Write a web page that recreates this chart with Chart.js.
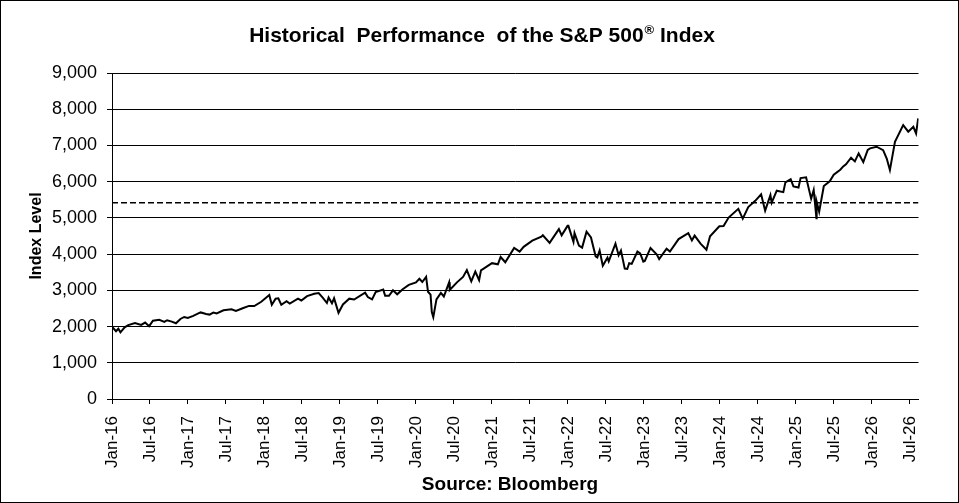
<!DOCTYPE html>
<html>
<head>
<meta charset="utf-8">
<script src="https://cdn.jsdelivr.net/npm/chart.js@4.4.1/dist/chart.umd.min.js"></script>
<style>
  html, body { margin: 0; padding: 0; background: #fff; }
  #wrap { width: 959px; height: 503px; position: relative; }
</style>
</head>
<body>
<div id="wrap"><canvas id="spxChart"></canvas></div>
<script>
// dates, with the index level at each one
var dates = [
  '2016-01-02','2016-01-20','2016-02-01','2016-02-11','2016-03-01','2016-03-18','2016-04-20','2016-05-19',
  '2016-06-08','2016-06-27','2016-07-15','2016-08-15','2016-09-09','2016-09-22','2016-10-14','2016-11-04',
  '2016-11-25','2016-12-13','2016-12-30',
  '2017-01-26','2017-02-15','2017-03-01','2017-03-27','2017-04-13','2017-05-01','2017-05-17','2017-06-19',
  '2017-07-27','2017-08-18','2017-09-20','2017-10-20','2017-11-15','2017-12-18',
  '2018-01-26','2018-02-08','2018-02-26','2018-03-09','2018-03-23','2018-04-18','2018-05-03','2018-06-12',
  '2018-06-28','2018-07-25','2018-08-29','2018-09-20','2018-10-10','2018-10-29','2018-11-07','2018-11-23',
  '2018-12-03','2018-12-24',
  '2019-01-15','2019-02-15','2019-03-08','2019-04-30','2019-05-13','2019-06-03','2019-06-20','2019-07-26',
  '2019-08-05','2019-08-23','2019-09-12','2019-10-02','2019-10-28','2019-11-27','2019-12-31',
  '2020-01-17','2020-01-31','2020-02-19','2020-02-28','2020-03-10','2020-03-16','2020-03-23','2020-04-08',
  '2020-04-29','2020-05-13','2020-06-08','2020-06-11','2020-07-15','2020-08-14','2020-09-02','2020-09-23',
  '2020-10-12','2020-10-30','2020-11-09','2020-12-31',
  '2021-01-29','2021-02-12','2021-03-04','2021-04-16','2021-05-12','2021-05-31','2021-07-12','2021-08-25',
  '2021-09-02','2021-10-04','2021-11-18','2021-12-01','2021-12-29',
  '2022-01-03','2022-01-27','2022-02-02','2022-02-23','2022-03-08','2022-03-29','2022-04-20','2022-05-12',
  '2022-05-20','2022-06-01','2022-06-16','2022-07-08','2022-07-14','2022-08-16','2022-09-01','2022-09-12',
  '2022-09-30','2022-10-12','2022-10-21','2022-11-03','2022-11-30','2022-12-13','2022-12-28',
  '2023-01-05','2023-02-02','2023-03-02','2023-03-13','2023-04-18','2023-05-04','2023-06-15','2023-07-31',
  '2023-08-18','2023-09-01','2023-09-29','2023-10-27','2023-11-14','2023-12-28',
  '2024-01-18','2024-02-12','2024-03-28','2024-04-19','2024-05-15','2024-06-18','2024-07-16','2024-08-05',
  '2024-08-30','2024-09-06','2024-09-30','2024-10-31','2024-11-11','2024-12-06','2024-12-19',
  '2025-01-13','2025-01-23','2025-02-19','2025-03-13','2025-03-25','2025-04-08','2025-04-09','2025-04-21',
  '2025-05-13','2025-06-11','2025-06-30','2025-07-31','2025-08-15','2025-08-28','2025-09-22','2025-10-10',
  '2025-10-28','2025-11-20','2025-12-11','2025-12-22',
  '2026-01-23','2026-02-24','2026-03-11','2026-03-26','2026-04-20','2026-05-29','2026-06-23','2026-07-17',
  '2026-07-30','2026-08-10'
];
var levels = [
  1990,1870,1940,1840,1980,2040,2095,2045,
  2110,2010,2160,2185,2130,2175,2135,2090,
  2210,2265,2240,
  2295,2350,2390,2345,2330,2385,2360,2450,
  2475,2430,2505,2570,2565,2685,
  2870,2600,2770,2780,2600,2700,2635,2770,
  2720,2840,2905,2925,2790,2650,2800,2640,
  2780,2380,
  2610,2770,2745,2935,2815,2750,2950,3020,
  2850,2850,3000,2890,3030,3150,3220,
  3320,3230,3370,2960,2880,2400,2260,2750,
  2930,2830,3220,3010,3220,3370,3560,3250,
  3520,3280,3550,3750,
  3720,3920,3775,4170,4070,4200,4370,4480,
  4520,4310,4690,4520,4780,
  4780,4340,4580,4235,4180,4620,4460,3940,
  3910,4100,3680,3900,3800,4290,3970,4100,
  3600,3590,3750,3730,4070,4020,3790,
  3810,4170,3985,3860,4150,4070,4415,4580,
  4380,4510,4290,4120,4490,4770,
  4775,5010,5250,4980,5300,5470,5650,5200,
  5630,5420,5750,5710,5980,6070,5870,
  5840,6100,6120,5530,5770,4990,5450,5170,
  5880,6010,6190,6330,6420,6480,6660,6560,
  6780,6540,6880,6920,
  6965,6870,6640,6320,7100,7560,7380,7515,
  7330,7750
];
var dashLevel = 5420;
var tickLabels = ['Jan-16','Jul-16','Jan-17','Jul-17','Jan-18','Jul-18','Jan-19','Jul-19',
  'Jan-20','Jul-20','Jan-21','Jul-21','Jan-22','Jul-22','Jan-23','Jul-23','Jan-24','Jul-24',
  'Jan-25','Jul-25','Jan-26','Jul-26'];
var yTicks = [0,1000,2000,3000,4000,5000,6000,7000,8000,9000];

var FONT = '"Liberation Sans", Arial, sans-serif';
var xEnd = 127.35; // months after Jan-16 where the plot stops

// months since Jan 2016
function monthIndex(d) {
  var p = d.split('-');
  return (parseInt(p[0]) - 2016) * 12 + (parseInt(p[1]) - 1) + (parseInt(p[2]) - 1) / 30;
}

var linePoints = [];
for (var i = 0; i < dates.length; i++) {
  linePoints.push({ x: monthIndex(dates[i]), y: levels[i] });
}

var textPlugin = {
  id: 'texts',
  beforeDraw: function (chart) {
    var ctx = chart.ctx;
    ctx.save();
    ctx.fillStyle = '#fff';
    ctx.fillRect(0, 0, chart.width, chart.height);
    ctx.restore();
  },
  afterDraw: function (chart) {
    var ctx = chart.ctx;
    ctx.save();
    ctx.fillStyle = '#000';

    // title with superscript ®
    var t1 = 'Historical  Performance  of the S&P 500', t2 = '\u00AE', t3 = ' Index';
    ctx.font = 'bold 21px ' + FONT;
    var w1 = ctx.measureText(t1).width, w3 = ctx.measureText(t3).width;
    ctx.font = 'bold 13px ' + FONT;
    var w2 = ctx.measureText(t2).width;
    var x0 = 481.5 - (w1 + w2 + w3) / 2;
    ctx.textBaseline = 'alphabetic';
    ctx.textAlign = 'left';
    ctx.font = 'bold 21px ' + FONT;
    ctx.fillText(t1, x0, 42);
    ctx.font = 'bold 13px ' + FONT;
    ctx.fillText(t2, x0 + w1 + 1, 34);
    ctx.font = 'bold 21px ' + FONT;
    ctx.fillText(t3, x0 + w1 + w2 + 1, 42);

    // source line
    ctx.textAlign = 'center';
    ctx.font = 'bold 19px ' + FONT;
    ctx.fillText('Source: Bloomberg', 510, 490);

    // y axis title
    ctx.translate(41, 236);
    ctx.rotate(-Math.PI / 2);
    ctx.font = 'bold 16px ' + FONT;
    ctx.fillText('Index Level', 0, 0);
    ctx.restore();

    // outer frame
    ctx.save();
    ctx.strokeStyle = '#000';
    ctx.lineWidth = 1;
    ctx.strokeRect(0.5, 0.5, chart.width - 1, chart.height - 1);
    ctx.restore();
  }
};

new Chart(document.getElementById('spxChart'), {
  type: 'line',
  data: {
    datasets: [
      {
        label: 'S&P 500',
        data: linePoints,
        borderColor: '#000',
        borderWidth: 2,
        pointRadius: 0,
        tension: 0
      },
      {
        label: 'Level',
        data: [{ x: 0, y: dashLevel }, { x: xEnd, y: dashLevel }],
        borderColor: '#000',
        borderWidth: 1.5,
        borderDash: [6, 3],
        pointRadius: 0
      }
    ]
  },
  options: {
    responsive: true,
    maintainAspectRatio: false,
    animation: false,
    layout: { padding: { top: 73, right: 40.5, bottom: 0, left: 0 } },
    plugins: { legend: { display: false }, tooltip: { enabled: false } },
    scales: {
      x: {
        type: 'linear',
        min: 0,
        max: xEnd,
        afterBuildTicks: function (scale) {
          scale.ticks = tickLabels.map(function (l, i) { return { value: i * 6 }; });
        },
        afterFit: function (scale) { scale.height = 104; },
        grid: { drawOnChartArea: false, color: '#000', tickLength: 5 },
        border: { color: '#000', width: 1 },
        ticks: {
          autoSkip: false,
          minRotation: 90,
          maxRotation: 90,
          padding: 12,
          color: '#000',
          font: { family: FONT, size: 17 },
          callback: function (v) { return tickLabels[Math.round(v / 6)]; }
        }
      },
      y: {
        min: 0,
        max: 9000,
        afterBuildTicks: function (scale) {
          scale.ticks = yTicks.map(function (v) { return { value: v }; });
        },
        afterFit: function (scale) { scale.width = 112; },
        grid: { color: '#000', lineWidth: 1, tickLength: 5 },
        border: { color: '#000', width: 1 },
        ticks: {
          padding: 10,
          color: '#000',
          font: { family: FONT, size: 18 },
          callback: function (v) { return v.toLocaleString('en-US'); }
        }
      }
    }
  },
  plugins: [textPlugin]
});
</script>
</body>
</html>
